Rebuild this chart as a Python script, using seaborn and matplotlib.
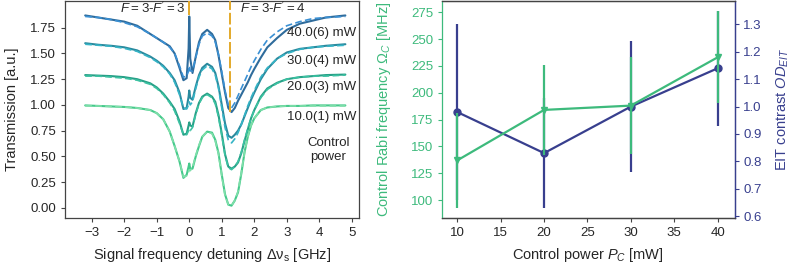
import numpy as np
import matplotlib
matplotlib.use("Agg")
import matplotlib.pyplot as plt
import seaborn as sns

# spectra: detuning grid [GHz] and transmission
detuning = [-3.2, -2.8, -2.4, -2.0, -1.6, -1.2, -1.0, -0.8, -0.6, -0.45, -0.3, -0.18, -0.08,
            -0.02, 0.0, 0.03, 0.1, 0.2, 0.3, 0.4, 0.55, 0.7, 0.8, 0.9, 1.0, 1.1, 1.2, 1.3,
            1.4, 1.5, 1.6, 1.7, 1.8, 1.9, 2.0, 2.2, 2.4, 2.7, 3.0, 3.4, 3.8, 4.2, 4.8]

t_40 = [1.87, 1.85, 1.83, 1.81, 1.77, 1.69, 1.65, 1.61, 1.57, 1.50, 1.36, 1.24, 1.26,
        1.55, 1.86, 1.45, 1.31, 1.47, 1.61, 1.69, 1.73, 1.69, 1.63, 1.48, 1.30, 1.12, 0.97, 0.93,
        0.97, 1.04, 1.10, 1.16, 1.22, 1.29, 1.35, 1.46, 1.56, 1.65, 1.73, 1.79, 1.82, 1.85, 1.87]
fit_40 = [1.86, 1.85, 1.83, 1.80, 1.76, 1.69, 1.65, 1.61, 1.56, 1.50, 1.38, 1.27, 1.28,
          1.33, 1.38, 1.33, 1.33, 1.46, 1.59, 1.67, 1.70, 1.67, 1.61, 1.49, 1.32, 1.14, 1.00, 0.97,
          1.02, 1.09, 1.16, 1.23, 1.30, 1.37, 1.43, 1.54, 1.63, 1.71, 1.77, 1.81, 1.84, 1.85, 1.86]

t_30 = [1.60, 1.585, 1.575, 1.56, 1.53, 1.47, 1.43, 1.38, 1.31, 1.24, 1.12, 0.96, 0.97,
        1.08, 1.14, 1.07, 1.05, 1.18, 1.29, 1.36, 1.40, 1.37, 1.31, 1.18, 1.00, 0.82, 0.70, 0.68,
        0.71, 0.75, 0.81, 0.89, 0.97, 1.05, 1.12, 1.25, 1.35, 1.45, 1.51, 1.545, 1.56, 1.575, 1.59]
fit_30 = [1.59, 1.58, 1.57, 1.55, 1.52, 1.46, 1.42, 1.37, 1.30, 1.22, 1.10, 0.97, 0.96,
          1.00, 1.03, 1.00, 1.03, 1.16, 1.27, 1.34, 1.38, 1.35, 1.29, 1.16, 0.97, 0.78, 0.66, 0.63,
          0.67, 0.73, 0.81, 0.90, 0.99, 1.07, 1.14, 1.27, 1.36, 1.45, 1.50, 1.54, 1.56, 1.57, 1.58]

t_20 = [1.29, 1.285, 1.28, 1.27, 1.25, 1.21, 1.17, 1.11, 1.03, 0.96, 0.84, 0.71, 0.72,
        0.80, 0.83, 0.80, 0.79, 0.92, 1.02, 1.08, 1.11, 1.08, 1.03, 0.90, 0.72, 0.52, 0.40, 0.38,
        0.40, 0.44, 0.53, 0.65, 0.76, 0.87, 0.95, 1.08, 1.16, 1.215, 1.25, 1.27, 1.28, 1.29, 1.295]
fit_20 = [1.28, 1.28, 1.27, 1.26, 1.24, 1.20, 1.16, 1.10, 1.02, 0.94, 0.82, 0.71, 0.71,
          0.75, 0.77, 0.75, 0.78, 0.91, 1.01, 1.07, 1.10, 1.07, 1.01, 0.88, 0.70, 0.51, 0.39, 0.37,
          0.40, 0.45, 0.54, 0.66, 0.77, 0.87, 0.95, 1.07, 1.15, 1.21, 1.25, 1.27, 1.28, 1.28, 1.29]

t_10 = [0.995, 0.99, 0.985, 0.98, 0.97, 0.95, 0.92, 0.86, 0.74, 0.60, 0.45, 0.29, 0.32,
        0.40, 0.43, 0.38, 0.38, 0.50, 0.60, 0.69, 0.74, 0.73, 0.66, 0.53, 0.32, 0.13, 0.03, 0.02,
        0.07, 0.15, 0.33, 0.54, 0.69, 0.80, 0.87, 0.95, 0.975, 0.985, 0.99, 0.99, 0.995, 0.995, 0.995]
fit_10 = [0.99, 0.99, 0.985, 0.98, 0.97, 0.95, 0.92, 0.86, 0.74, 0.60, 0.45, 0.30, 0.31,
          0.35, 0.37, 0.36, 0.39, 0.51, 0.61, 0.69, 0.74, 0.72, 0.65, 0.52, 0.31, 0.12, 0.03, 0.02,
          0.07, 0.16, 0.34, 0.54, 0.69, 0.80, 0.87, 0.95, 0.975, 0.985, 0.99, 0.99, 0.99, 0.99, 0.99]

power_labels = ["40.0(6) mW", "30.0(4) mW", "20.0(3) mW", "10.0(1) mW"]
label_y = [1.695, 1.423, 1.171, 0.88]

# right panel
power = [10, 20, 30, 40]
rabi = [137, 184, 188, 233]
rabi_err = [44, 42, 45, 43]
od_eit = [0.98, 0.83, 1.0, 1.14]
od_err = [0.32, 0.20, 0.24, 0.21]

green = "#3dba7c"
navy = "#383f8e"
orange = "#e3a92a"

sns.set_theme(style="ticks")
plt.rcParams["font.family"] = ["Liberation Sans", "DejaVu Sans"]
plt.rcParams["mathtext.fontset"] = "custom"
plt.rcParams["mathtext.rm"] = "Liberation Sans"
plt.rcParams["mathtext.it"] = "Liberation Sans:italic"
plt.rcParams["mathtext.bf"] = "Liberation Sans:bold"

fig = plt.figure(figsize=(7.91, 2.68), dpi=100)
ax = fig.add_axes([0.0822, 0.1866, 0.3717, 0.8114])

curves = [(t_40, fit_40, "#2f6c9c", "#3a90d4"),
          (t_30, fit_30, "#2a8a9e", "#35b4c6"),
          (t_20, fit_20, "#27a087", "#3cc2a2"),
          (t_10, fit_10, "#45c98b", "#7fdfaa")]
for meas, fit, c_meas, c_fit in curves:
    sns.lineplot(x=detuning, y=meas, ax=ax, color=c_meas, lw=1.5, sort=False, estimator=None)
    sns.lineplot(x=detuning, y=fit, ax=ax, color=c_fit, lw=1.2, sort=False, estimator=None,
                 linestyle=(0, (4, 2)))

ax.vlines(0.0, max(t_40), 2.1, color=orange, lw=1.4, zorder=5)
ax.vlines(1.25, min(t_40), 2.1, color=orange, lw=1.4, linestyle=(0, (6, 1.5)), zorder=5)

ax.set_xlim(-3.82, 5.22)
ax.set_ylim(-0.10, 2.015)
ax.set_xticks(range(-3, 6))
ax.set_yticks([0, 0.25, 0.5, 0.75, 1.0, 1.25, 1.5, 1.75])
ax.set_yticklabels(["0.00", "0.25", "0.50", "0.75", "1.00", "1.25", "1.50", "1.75"])
ts = "\u2009"
ax.text(-0.12, 1.937, r"$F$" + ts + "=" + ts + "3-" + r"$F'$" + ts + "=" + ts + "3",
        ha="right", va="center", fontsize=9.5)
ax.text(1.55, 1.937, r"$F$" + ts + "=" + ts + "3-" + r"$F'$" + ts + "=" + ts + "4",
        ha="left", va="center", fontsize=9.5)
for lab, yy in zip(power_labels, label_y):
    ax.text(0.99, (yy + 0.10) / 2.115, lab, transform=ax.transAxes, ha="right", va="center",
            fontsize=9.5)
ax.text(4.28, 0.56, "Control\npower", ha="center", va="center", fontsize=9.5, linespacing=1.2)
ax.set_xlabel(r"Signal frequency detuning $\mathrm{\Delta\nu_s}$ [GHz]", fontsize=10.5, labelpad=5)
ax.set_ylabel("Transmission [a.u.]", fontsize=10.5, labelpad=8)
ax.tick_params(labelsize=9.5, length=3, width=0.8, color="#444444", pad=3.5)
for s in ax.spines.values():
    s.set_color("#444444")
    s.set_linewidth(0.9)

# right panel: OD on base axes (right side), Rabi frequency on twin drawn on top
ax_od = fig.add_axes([0.5584, 0.1866, 0.3708, 0.8114])
ax_om = ax_od.twinx()

ax_od.errorbar(power, od_eit, yerr=od_err, color=navy, marker="o", ms=5, lw=1.6,
               elinewidth=1.6, capsize=0)
ax_om.errorbar(power, rabi, yerr=rabi_err, color=green, marker="v", ms=5, lw=1.6,
               elinewidth=1.6, capsize=0)

ax_od.set_xlim(8.2, 42.0)
ax_od.set_ylim(0.593, 1.3875)
ax_om.set_ylim(83.3, 285.9)
ax_od.set_xticks([10, 15, 20, 25, 30, 35, 40])
ax_od.set_yticks([0.6, 0.7, 0.8, 0.9, 1.0, 1.1, 1.2, 1.3])
ax_om.set_yticks([100, 125, 150, 175, 200, 225, 250, 275])

ax_od.yaxis.tick_right()
ax_od.yaxis.set_label_position("right")
ax_om.yaxis.tick_left()
ax_om.yaxis.set_label_position("left")

ax_od.set_xlabel(r"Control power $P_C$ [mW]", fontsize=10.5, labelpad=5)
ax_od.set_ylabel(r"EIT contrast $OD_{EIT}$", color=navy, fontsize=10.5, labelpad=9)
ax_om.set_ylabel(r"Control Rabi frequency $\Omega_C$ [MHz]", color=green, fontsize=10.5, labelpad=13)

ax_od.tick_params(axis="x", labelsize=9.5, length=3, width=0.8, color="#444444", pad=3.5)
ax_od.tick_params(axis="y", labelsize=9.5, length=3, width=0.8, colors=navy, pad=3)
ax_om.tick_params(axis="y", labelsize=9.5, length=3, width=0.8, colors=green, pad=3)

for a in (ax_od, ax_om):
    for s in a.spines.values():
        s.set_color("#444444")
        s.set_linewidth(0.9)
ax_od.spines["left"].set_visible(False)
ax_om.spines["right"].set_color(navy)
ax_om.spines["left"].set_color(green)
ax_od.spines["right"].set_color(navy)

fig.savefig("out.png", dpi=100)
